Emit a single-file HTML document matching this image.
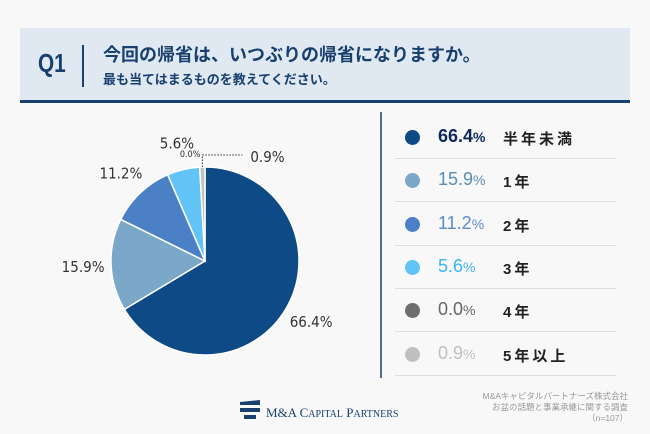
<!DOCTYPE html>
<html><head><meta charset="utf-8">
<style>
body{margin:0;width:650px;height:434px;background:#f8f8f8;font-family:"Liberation Sans","Noto Sans CJK JP",sans-serif;position:relative;overflow:hidden}
.abs{position:absolute}
</style></head><body>
<div class="abs" style="left:20px;top:28px;width:610px;height:72px;background:#e0e8f2;border-bottom:3px solid #17406e"></div>
<div class="abs" style="left:38px;top:48px;font-size:26px;font-weight:bold;color:#17406e;transform:scaleX(0.8);transform-origin:left">Q1</div>
<div class="abs" style="left:82px;top:45px;width:2px;height:42px;background:#17406e"></div>
<div class="abs" style="left:103px;top:41px;font-size:18px;font-weight:bold;color:#17406e">今回の帰省は、いつぶりの帰省になりますか。</div>
<div class="abs" style="left:103px;top:69px;font-size:13px;font-weight:bold;color:#17406e">最も当てはまるものを教えてください。</div>

<svg class="abs" style="left:0;top:0" width="650" height="434" id="pie">
</svg>

<div class="abs" style="left:380px;top:112px;width:2px;height:266px;background:#4d6f90"></div>
<div id="legend"></div>

<div class="abs" style="left:240px;top:398px;width:160px;height:26px">
  <div class="abs" style="left:0;top:2px;width:20px;height:5px;background:#17406e;clip-path:polygon(0 40%,100% 0,100% 100%,0 100%)"></div>
  <div class="abs" style="left:0;top:10px;width:20px;height:4px;background:#17406e"></div>
  <div class="abs" style="left:4px;top:17px;width:12px;height:4px;background:#17406e"></div>
  <div class="abs" style="left:26px;top:7px;font-family:'Liberation Serif',serif;font-size:13px;color:#17406e;white-space:nowrap">M&amp;A C<span style="font-size:10px">APITAL</span> P<span style="font-size:10px">ARTNERS</span></div>
</div>
<div class="abs" style="right:22px;top:391px;font-size:8.5px;line-height:11px;color:#999;text-align:right">M&amp;Aキャピタルパートナーズ株式会社<br>お盆の話題と事業承継に関する調査<br>（n=107）</div>

<script>
const categories=["半年未満","1年","2年","3年","4年","5年以上"];
const values=[66.4,15.9,11.2,5.6,0.0,0.9];
const valueLabels=["66.4","15.9","11.2","5.6","0.0","0.9"];
const colors=["#0d4a86","#7ba7c9","#4b80c6","#62c3f7","#6e6e6e","#c0c0c0"];
const legendTextColors=["#0d2a5e","#5a8db5","#5a8cc8","#3bb4f2","#666","#c0c0c0"];
const svg=document.getElementById('pie');
const NS="http://www.w3.org/2000/svg";
const cx=205,cy=261,r=94;
const total=values.reduce((a,b)=>a+b,0);
let a0=0;
function pt(a,rr){return [cx+rr*Math.sin(a),cy-rr*Math.cos(a)];}
const mids=[];
values.forEach((v,i)=>{
  const a1=a0+v/total*2*Math.PI;
  mids.push((a0+a1)/2);
  if(v>0){
    const p0=pt(a0,r),p1=pt(a1,r);
    const large=(a1-a0)>Math.PI?1:0;
    const p=document.createElementNS(NS,'path');
    p.setAttribute('d',`M${cx},${cy}L${p0[0]},${p0[1]}A${r},${r} 0 ${large} 1 ${p1[0]},${p1[1]}Z`);
    p.setAttribute('fill',colors[i]);
    p.setAttribute('stroke','#fff');
    p.setAttribute('stroke-width','1.5');
    
    
    svg.appendChild(p);
  }
  a0=a1;
});
const lab=(x,y,t,fs,anchor,i)=>{
  const e=document.createElementNS(NS,'text');
  e.setAttribute('x',x);e.setAttribute('y',y);
  e.setAttribute('font-size',fs);e.setAttribute('fill','#333');
  e.setAttribute('text-anchor',anchor);
  e.setAttribute('font-family','"DejaVu Sans Condensed","Liberation Sans",sans-serif');
  e.textContent=t;
  
  
  svg.appendChild(e);
};
values.forEach((v,i)=>{
  const m=mids[i];
  if(i===4){ const p=pt(m,r+10); lab(p[0]-9,p[1],valueLabels[i]+"%",9,'middle',i); return;}
  if(i===5){
    const p=pt(m,r);
    const l=document.createElementNS(NS,'polyline');
    l.setAttribute('points',`${p[0]},${p[1]} ${p[0]},${cy-r-12} ${p[0]+40},${cy-r-12}`);
    l.setAttribute('fill','none');l.setAttribute('stroke','#333');l.setAttribute('stroke-dasharray','1.5,1.5');
    
    
    svg.appendChild(l);
    lab(p[0]+48,cy-r-5,valueLabels[i]+"%",15,'start',i);return;}
  const p=pt(m,r+28);
  lab(p[0],p[1]+6,valueLabels[i]+"%",15,'middle',i);
});
const lg=document.getElementById('legend');
categories.forEach((c,i)=>{
  const y=137+i*43.3;
  const row=document.createElement('div');
  row.className='abs';
  row.style.cssText=`left:395px;top:${y-21}px;width:221px;height:42px;border-bottom:1px solid #ddd`;
  
  
  row.innerHTML=`<div class="abs" style="left:10px;top:14px;width:15px;height:15px;border-radius:50%;background:${colors[i]}"></div>
  <div class="abs" style="left:43px;top:10px;font-size:18px;font-weight:${i===0?'bold':'normal'};color:${legendTextColors[i]}">${valueLabels[i]}<span style="font-size:14px">%</span></div>
  <div class="abs" style="left:108px;top:12px;font-size:15px;font-weight:bold;letter-spacing:3px;color:#222">${c}</div>`;
  lg.appendChild(row);
});
</script>
</body></html>
